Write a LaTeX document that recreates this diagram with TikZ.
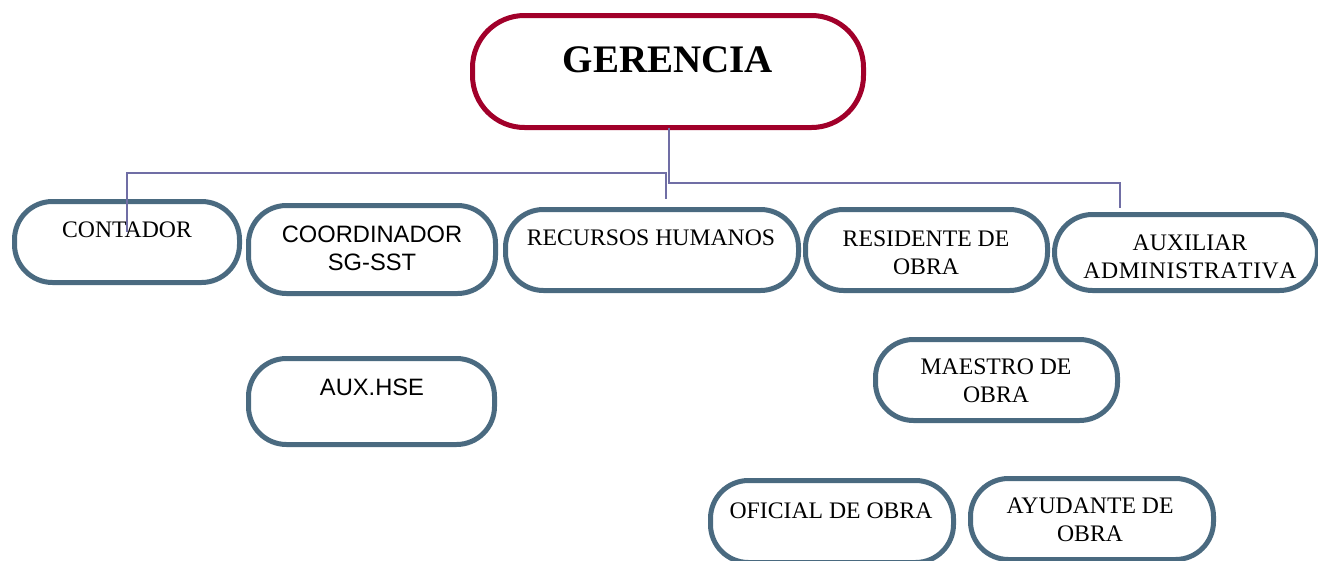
\documentclass[tikz,border=0pt]{standalone}
\usepackage{fontspec}
\setmainfont{Liberation Serif}
\newfontfamily\arialf{Liberation Sans}
\definecolor{boxblue}{RGB}{74,106,128}
\definecolor{gerred}{RGB}{161,0,42}
\definecolor{connc}{RGB}{112,110,165}
\begin{document}
\begin{tikzpicture}[x=1pt,y=-1pt,
  obox/.style={draw=boxblue, line width=5pt, rounded corners=38pt, inner sep=0pt, outer sep=0pt},
  gbox/.style={draw=gerred, line width=5pt, rounded corners=52pt, inner sep=0pt, outer sep=0pt},
  txt/.style={font=\fontsize{23.7}{28}\selectfont, align=center, inner sep=0pt},
  stxt/.style={txt, font=\arialf\fontsize{23.7}{28}\selectfont},
  conn/.style={draw=connc, line width=1.5pt}]
\useasboundingbox (0,0) rectangle (1318,560);
\clip (0,0) rectangle (1318,560);
% boxes
\node[gbox, minimum width=391pt, minimum height=112pt] (ger) at (668,71.5) {};
\node[obox, minimum width=225pt, minimum height=81pt] (cont) at (127,242) {};
\node[obox, minimum width=247pt, minimum height=88pt] (coord) at (372,249.5) {};
\node[obox, minimum width=293pt, minimum height=81pt] (rrhh) at (652,250) {};
\node[obox, minimum width=242pt, minimum height=81pt] (resid) at (926.5,250) {};
\node[obox, minimum width=263pt, minimum height=76pt] (aux) at (1186,252.5) {};
\node[obox, minimum width=246pt, minimum height=86pt] (hse) at (371.5,401.5) {};
\node[obox, minimum width=242pt, minimum height=81pt] (maes) at (996.5,380) {};
\node[obox, minimum width=243pt, minimum height=82pt] (ofic) at (832,521.5) {};
\node[obox, minimum width=243pt, minimum height=81pt] (ayud) at (1092,519) {};
% texts
\node[txt, font=\bfseries\fontsize{39}{44}\selectfont] (gerT) at (668,60) {GERENCIA};
\node[txt] (contT) at (127,230) {CONTADOR};
\node[stxt] (coordT) at (372,248) {COORDINADOR\\SG-SST};
\node[txt] (rrhhT) at (651,238) {RECURSOS HUMANOS};
\node[txt] (residT) at (926,253) {RESIDENTE DE\\OBRA};
\node[txt] (auxT) at (1190,257) {AUXILIAR\\A\kern.6pt D\kern.6pt M\kern.6pt I\kern.6pt N\kern.6pt I\kern.6pt S\kern.6pt T\kern.6pt R\kern.6pt A\kern.6pt T\kern.6pt I\kern.6pt V\kern.6pt A};
\node[stxt] (hseT) at (372,387) {AUX.HSE};
\node[txt] (maesT) at (996,380.5) {MAESTRO DE\\OBRA};
\node[txt] (oficT) at (831,511) {OFICIAL DE OBRA};
\node[txt] (ayudT) at (1090,520) {AYUDANTE DE\\OBRA};
% connectors
\coordinate (jr) at (669,183);
\coordinate (jl) at (666,173);
\coordinate (contin) at (127,232);
\coordinate (rrin) at (666,199);
\coordinate (auxin) at (1120,208);
\draw[conn] (ger.south -| jr) -- (jr) -| (auxin);
\draw[conn] (contin) |- (jl) -- (rrin);
\end{tikzpicture}
\end{document}
